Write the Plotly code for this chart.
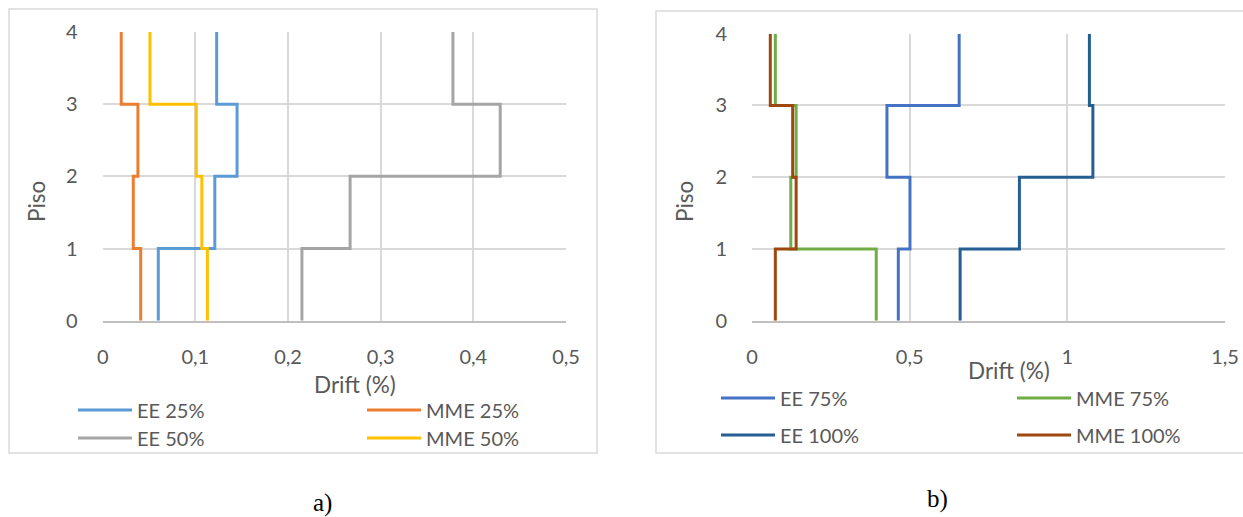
import plotly.graph_objects as go

# Storey drift (%) per storey, storeys 1..4 (segment between floor i and i+1)
floors = [0, 1, 2, 3, 4]

ee_25 = [0.060, 0.121, 0.145, 0.123]
mme_25 = [0.041, 0.033, 0.038, 0.020]
ee_50 = [0.215, 0.267, 0.429, 0.378]
mme_50 = [0.113, 0.107, 0.101, 0.051]

ee_75 = [0.464, 0.501, 0.428, 0.657]
mme_75 = [0.394, 0.123, 0.140, 0.074]
ee_100 = [0.660, 0.848, 1.081, 1.070]
mme_100 = [0.074, 0.140, 0.129, 0.058]

x_ticks_a = [0, 0.1, 0.2, 0.3, 0.4, 0.5]
x_ticks_b = [0, 0.5, 1, 1.5]
y_ticks = [0, 1, 2, 3, 4]

W, H = 1243, 517
FONT = "Lato"
TXT = "#595959"
GRID = "#D9D9D9"
LEG_ITEM_W = 54


def px(x):
    return x / W


def py(y):
    return 1 - y / H


def fmt(v):
    return f"{v:g}".replace(".", ",")


def step(drift):
    xs, ys = [], []
    for i, d in enumerate(drift):
        xs += [d, d]
        ys += [floors[i], floors[i + 1]]
    return xs, ys


fig = go.Figure()

series = [
    # name, data, colour, axes, legend id
    ("EE 25%", ee_25, "#5B9BD5", "x", "y", "legend"),
    ("MME 25%", mme_25, "#ED7D31", "x", "y", "legend2"),
    ("EE 50%", ee_50, "#A5A5A5", "x", "y", "legend3"),
    ("MME 50%", mme_50, "#FFC000", "x", "y", "legend4"),
    ("EE 75%", ee_75, "#4472C4", "x2", "y2", "legend5"),
    ("MME 75%", mme_75, "#70AD47", "x2", "y2", "legend6"),
    ("EE 100%", ee_100, "#255E91", "x2", "y2", "legend7"),
    ("MME 100%", mme_100, "#9E480E", "x2", "y2", "legend8"),
]

for name, data, color, xa, ya, lg in series:
    xs, ys = step(data)
    fig.add_trace(go.Scatter(
        x=xs, y=ys, mode="lines", name=name,
        line=dict(color=color, width=3),
        xaxis=xa, yaxis=ya, legend=lg,
    ))

# legend entry positions: (text start x, row centre y) in pixels
legend_pos = {
    "legend": (137, 410), "legend2": (426, 410),
    "legend3": (137, 438), "legend4": (426, 438),
    "legend5": (780, 398), "legend6": (1076, 398),
    "legend7": (780, 435), "legend8": (1076, 435),
}
legend_layout = {}
for key, (tx, ty) in legend_pos.items():
    legend_layout[key] = dict(
        x=px(tx - LEG_ITEM_W - 10), y=py(ty), xanchor="left", yanchor="middle",
        bgcolor="rgba(0,0,0,0)", font=dict(family=FONT, size=20, color=TXT),
        orientation="v", itemwidth=LEG_ITEM_W,
    )

axis_common = dict(
    showgrid=True, gridcolor=GRID, gridwidth=1.5, zeroline=False,
    tickfont=dict(family=FONT, size=20, color=TXT),
    ticks="outside", tickcolor="rgba(0,0,0,0)",
    fixedrange=True,
)

fig.update_layout(
    width=W, height=H,
    margin=dict(l=0, r=0, t=0, b=0, autoexpand=False),
    paper_bgcolor="white", plot_bgcolor="white",
    showlegend=True,
    xaxis=dict(
        domain=[px(102.7), px(566)], range=[0, 0.5], anchor="y",
        tickvals=x_ticks_a, ticktext=[fmt(v) for v in x_ticks_a], ticklen=18,
        showline=True, linecolor="#BFBFBF", linewidth=1.5, **axis_common,
    ),
    yaxis=dict(
        domain=[py(320.7), py(32)], range=[0, 4], anchor="x",
        tickvals=y_ticks, ticklen=20, **axis_common,
    ),
    xaxis2=dict(
        domain=[px(752), px(1225)], range=[0, 1.5], anchor="y2",
        tickvals=x_ticks_b, ticktext=[fmt(v) for v in x_ticks_b], ticklen=18,
        showline=True, linecolor="#BFBFBF", linewidth=1.5, **axis_common,
    ),
    yaxis2=dict(
        domain=[py(320.7), py(33.7)], range=[0, 4], anchor="x2",
        tickvals=y_ticks, ticklen=20, **axis_common,
    ),
    **legend_layout,
)

# chart frames
fig.add_shape(type="rect", xref="paper", yref="paper",
              x0=px(9), x1=px(597), y0=py(453), y1=py(9),
              line=dict(color=GRID, width=1.5), layer="below")
fig.add_shape(type="rect", xref="paper", yref="paper",
              x0=px(656), x1=px(1250), y0=py(453), y1=py(11),
              line=dict(color=GRID, width=1.5), layer="below")

title_font = dict(family=FONT, size=22.5, color=TXT)
annotations = [
    dict(text="Drift (%)", x=px(355), y=py(384), font=title_font),
    dict(text="Drift (%)", x=px(1009), y=py(370), font=title_font),
    dict(text="Piso", x=px(36), y=py(202), textangle=-90, font=title_font),
    dict(text="Piso", x=px(684), y=py(202), textangle=-90, font=title_font),
    dict(text="a)", x=px(322), y=py(503),
         font=dict(family="Liberation Serif", size=25, color="black")),
    dict(text="b)", x=px(938), y=py(499),
         font=dict(family="Liberation Serif", size=25, color="black")),
]
for a in annotations:
    fig.add_annotation(xref="paper", yref="paper", showarrow=False,
                       xanchor="center", yanchor="middle", **a)

fig.write_html("out.html")
